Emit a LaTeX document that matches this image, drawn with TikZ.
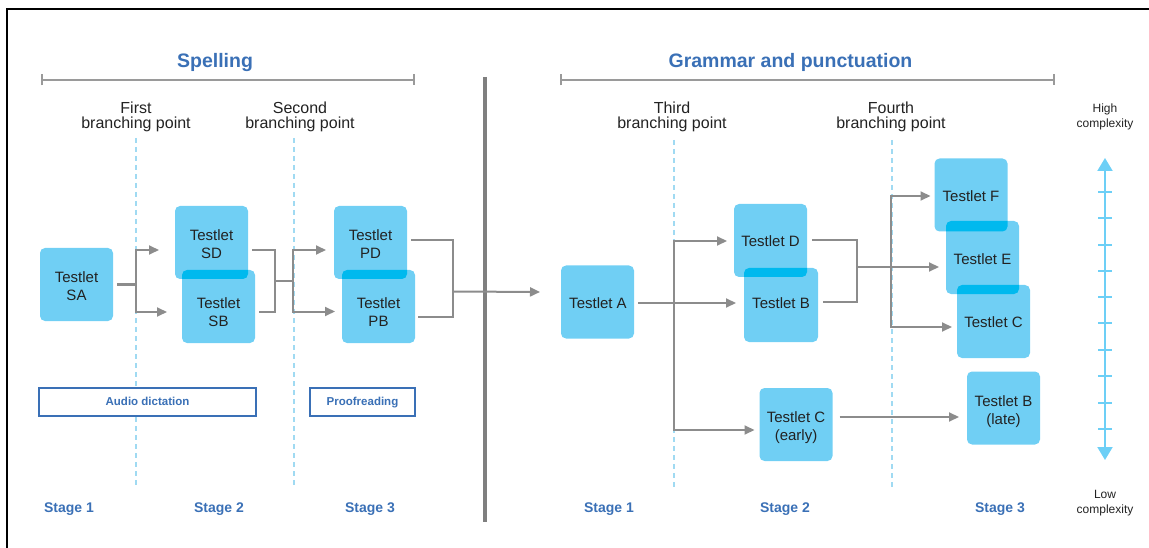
\documentclass[tikz,border=0pt]{standalone}
\usepackage{fontspec}
\setmainfont{Liberation Sans}
\usetikzlibrary{arrows.meta,calc}
\definecolor{boxfill}{HTML}{70CFF4}
\definecolor{ovlfill}{HTML}{00B9EE}
\definecolor{conn}{HTML}{8C8C8C}
\definecolor{divgray}{HTML}{7F7F7F}
\definecolor{brgray}{HTML}{9A9A9A}
\definecolor{titleblue}{HTML}{3A70B6}
\definecolor{dashblue}{HTML}{A0DAF2}
\definecolor{axisblue}{HTML}{6DCFF6}
\definecolor{txt}{HTML}{222222}
\begin{document}
\begin{tikzpicture}[x=1pt,y=-1pt,
  box/.style={fill=boxfill,rounded corners=5pt,minimum width=73pt,minimum height=73pt,inner sep=0pt,outer sep=0pt},
  ovl/.style={fill=ovlfill},
  tl/.style={text=txt,font=\fontsize{15}{18}\selectfont,align=center,inner sep=0pt},
  ln/.style={draw=conn,line width=2pt},
  arr/.style={ln,-{Triangle[length=10pt,width=9pt]}},
  dashline/.style={draw=dashblue,line width=1.5pt,dash pattern=on 5pt off 4pt},
  bracket/.style={draw=brgray,line width=2pt,{Bar[width=11pt]}-{Bar[width=11pt]}},
  title/.style={text=titleblue,font=\bfseries\fontsize{19.5}{22}\selectfont,inner sep=0pt},
  bpl/.style={text=txt,font=\fontsize{16}{15}\selectfont,align=center,inner sep=0pt},
  cpl/.style={text=txt,font=\fontsize{12}{15}\selectfont,align=center,inner sep=0pt},
  stage/.style={text=titleblue,font=\bfseries\fontsize{14}{16}\selectfont,inner sep=0pt},
  tag/.style={draw=titleblue,line width=2pt,fill=white,text=titleblue,font=\bfseries\fontsize{11.5}{13}\selectfont,minimum height=28pt,inner sep=0pt,text height=8.5pt,text depth=2.5pt}
]
\useasboundingbox (0,0) rectangle (1149,548);
% frame
\draw[line width=2.5pt,black] (7,548) -- (7,9) -- (1149,9);

% titles and brackets
\node[title] (tsp) at (215,62.5) {Spelling};
\node[title] (tgp) at (790.5,62.5) {Grammar and punctuation};
\draw[bracket] (41,80) -- (415,80);
\draw[bracket] (560,80) -- (1055,80);

% divider
\draw[draw=divgray,line width=4pt] (485,77) -- (485,522);

% branching point labels
\node[bpl] (bl1) at (136,117) {First\\branching point};
\node[bpl] (bl2) at (300,117) {Second\\branching point};
\node[bpl] (bl3) at (672,117) {Third\\branching point};
\node[bpl] (bl4) at (891,117) {Fourth\\branching point};

% dashed lines
\draw[dashline] (136,138) -- (136,487);
\draw[dashline] (294,138) -- (294,487);
\draw[dashline] (674,140) -- (674,487);
\draw[dashline] (892,140) -- (892,487);

% tags
\node[tag,minimum width=217pt] (AD) at (147.5,402) {Audio dictation};
\node[tag,minimum width=105pt] (PR) at (362.5,402) {Proofreading};

% boxes
\node[box] (SA) at (76.5,284.5) {};
\node[box] (SD) at (211.5,242.5) {};
\node[box] (SB) at (218.5,306.5) {};
\node[box] (PD) at (370.5,242.5) {};
\node[box] (PB) at (378.5,306.5) {};
\node[box] (A) at (597.5,302) {};
\node[box] (D) at (770.5,240.5) {};
\node[box,minimum width=74pt,minimum height=74pt] (B) at (781,305) {};
\node[box] (CE) at (796,424.5) {};
\node[box] (F) at (971,195) {};
\node[box] (E) at (982.5,257.5) {};
\node[box] (C) at (993.5,321.5) {};
\node[box] (BL) at (1003.5,408) {};

% overlaps
\begin{scope}
\clip[rounded corners=5pt] (SD.south west) rectangle (SD.north east);
\fill[ovl,rounded corners=5pt] (SB.south west) rectangle (SB.north east);
\end{scope}
\begin{scope}
\clip[rounded corners=5pt] (PD.south west) rectangle (PD.north east);
\fill[ovl,rounded corners=5pt] (PB.south west) rectangle (PB.north east);
\end{scope}
\begin{scope}
\clip[rounded corners=5pt] (D.south west) rectangle (D.north east);
\fill[ovl,rounded corners=5pt] (B.south west) rectangle (B.north east);
\end{scope}
\begin{scope}
\clip[rounded corners=5pt] (F.south west) rectangle (F.north east);
\fill[ovl,rounded corners=5pt] (E.south west) rectangle (E.north east);
\end{scope}
\begin{scope}
\clip[rounded corners=5pt] (E.south west) rectangle (E.north east);
\fill[ovl,rounded corners=5pt] (C.south west) rectangle (C.north east);
\end{scope}

% box texts
\node[tl] (SAt) at (76.5,286) {Testlet\\SA};
\node[tl] (SDt) at (211.5,244) {Testlet\\SD};
\node[tl] (SBt) at (218.5,312) {Testlet\\SB};
\node[tl] (PDt) at (370.5,244) {Testlet\\PD};
\node[tl] (PBt) at (378.5,312) {Testlet\\PB};
\node[tl] (At) at (598,303) {Testlet A};
\node[tl] (Dt) at (770.5,241) {Testlet D};
\node[tl] (Bt) at (781,303) {Testlet B};
\node[tl] (CEt) at (796,428) {Testlet C\\(early)};
\node[tl] (Ft) at (971,196) {Testlet F};
\node[tl] (Et) at (982.5,259) {Testlet E};
\node[tl] (Ct) at (993.5,322) {Testlet C};
\node[tl] (BLt) at (1003.5,412) {Testlet B\\(late)};

% branching coordinates
\coordinate (bp1) at (136,284.5);
\coordinate (j1) at (275,281);
\coordinate (bp2) at (293,281);
\coordinate (j2) at (453,291.5);
\coordinate (bp3) at (674,303);
\coordinate (j3) at (857,267);
\coordinate (bp4) at (891,267);

% spelling connectors
\draw[ln] ($(SA.east)+(4,0)$) -- (bp1);
\draw[arr] (bp1) |- ($(SD.west)+(-16,7.5)$);
\draw[arr] (bp1) |- ($(SB.west)+(-15,5.5)$);
\draw[ln] ($(SD.east)+(4,7.5)$) -| (j1) |- ($(SB.east)+(4,5)$);
\draw[ln] (j1) -- (bp2);
\draw[arr] (bp2) |- ($(PD.west)+(-8,7.5)$);
\draw[arr] (bp2) |- ($(PB.west)+(-7,5)$);
\draw[ln] ($(PD.east)+(4,-2.5)$) -| (j2) |- ($(PB.east)+(3,10.5)$);
\draw[arr] (j2) -- ($(A.west)+(-21,-10)$);

% grammar connectors
\draw[arr] ($(A.east)+(4,1)$) -- ($(B.west)+(-8,-2)$);
\draw[arr] (bp3) |- ($(D.west)+(-7,0.5)$);
\draw[arr] (bp3) |- ($(CE.west)+(-5,5.5)$);
\draw[ln] ($(D.east)+(5,-0.5)$) -| (j3) |- ($(B.east)+(5,-3)$);
\draw[arr] (j3) -- ($(E.west)+(-7,9.5)$);
\draw[arr] (bp4) |- ($(F.west)+(-4,1)$);
\draw[arr] (bp4) |- ($(C.west)+(-5,5.5)$);
\draw[arr] ($(CE.east)+(7,-7.5)$) -- ($(BL.west)+(-8,9)$);

% complexity axis
\node[cpl] (hi) at (1105,117) {High\\complexity};
\node[cpl] (lo) at (1105,503) {Low\\complexity};
\draw[draw=axisblue,line width=2pt,{Triangle[length=13pt,width=15pt]}-{Triangle[length=13pt,width=15pt]}] (1105,158) -- (1105,460);
\foreach \yy in {192,218,245,271,297,323,350,376,403,429}
  \draw[draw=axisblue,line width=1.5pt] (1098,\yy) -- (1112,\yy);

% stages
\node[stage] (s1) at (69,509) {Stage 1};
\node[stage] (s2) at (219,509) {Stage 2};
\node[stage] (s3) at (370,509) {Stage 3};
\node[stage] (s4) at (609,509) {Stage 1};
\node[stage] (s5) at (785,509) {Stage 2};
\node[stage] (s6) at (1000,509) {Stage 3};
\end{tikzpicture}
\end{document}
